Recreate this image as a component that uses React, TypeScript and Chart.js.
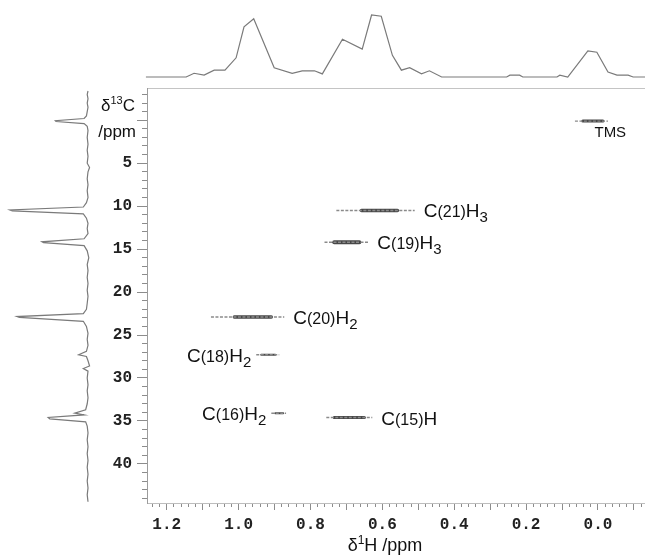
import { useEffect, useRef } from 'react';
import { Chart, registerables } from 'chart.js';

Chart.register(...registerables);

// ---------------- data ----------------
// axis ranges (ppm)
const protonRange = [-0.131, 1.255];
const carbonRange = [-3.75, 44.55];
// tick labels
const protonTickLabels = ['1.2', '1.0', '0.8', '0.6', '0.4', '0.2', '0.0'];
const carbonTickLabels = ['5', '10', '15', '20', '25', '30', '35', '40'];

// 2D cross peaks
const peakNames = ['TMS', 'C(21)H3', 'C(19)H3', 'C(20)H2', 'C(18)H2', 'C(16)H2', 'C(15)H'];
const peakC13 = [0.1, 10.5, 14.2, 22.9, 27.3, 34.1, 34.6];
const peakH1OuterStart = [0.064, 0.728, 0.761, 1.077, 0.951, 0.909, 0.756];
const peakH1OuterEnd = [-0.028, 0.51, 0.639, 0.873, 0.887, 0.868, 0.628];
const peakH1CoreStart = [0.042, 0.658, 0.734, 1.012, 0.937, 0.898, 0.734];
const peakH1CoreEnd = [-0.014, 0.558, 0.664, 0.909, 0.898, 0.876, 0.65];

// 1H projection (top trace)
const protonPpm = [1.258, 1.146, 1.124, 1.096, 1.068, 1.038, 1.007, 0.985, 0.958, 0.901, 0.851, 0.823, 0.789, 0.767, 0.711, 0.656, 0.63, 0.603, 0.572, 0.547, 0.524, 0.491, 0.469, 0.435, 0.254, 0.245, 0.218, 0.209, 0.114, 0.106, 0.084, 0.028, 0.003, -0.028, -0.053, -0.084, -0.098, -0.131];
const protonIntensity = [0, 0, 6, 3, 11, 11, 31, 81, 94, 15, 6, 10, 10, 5, 61, 45, 100, 98, 35, 11, 15, 5, 10, 0, 0, 3, 3, 0, 0, 3, 0, 42, 40, 8, 3, 3, 0, 0];

// 13C projection (left trace)
const carbonPpm = [-3.4, -3.0, -2.5, -2.0, -1.5, -1.0, -0.5, -0.2, 0.05, 0.15, 0.4, 0.7, 1.2, 2.0, 2.8, 3.5, 4.2, 5.0, 5.5, 6.0, 6.8, 7.5, 8.2, 9.0, 9.6, 10.1, 10.45, 10.55, 10.9, 11.4, 12.0, 12.6, 13.2, 13.8, 14.15, 14.25, 14.6, 15.2, 16.0, 16.8, 17.5, 18.3, 19.0, 19.8, 20.5, 21.3, 22.0, 22.5, 22.85, 22.95, 23.4, 24.0, 24.8, 25.5, 26.2, 26.9, 27.3, 27.5, 28.0, 28.6, 28.9, 29.2, 30.0, 30.8, 31.5, 32.3, 33.0, 33.7, 34.1, 34.3, 34.6, 34.75, 35.1, 35.6, 36.4, 37.2, 38.0, 38.8, 39.6, 40.4, 41.2, 42.0, 42.8, 43.6, 44.4];
const carbonIntensity = [0, 1, 0, 1, 0, 1, 2, 5, 42, 41, 5, 1, 0, 1, 0, 1, 0, 1, -2, 0, 1, 0, 1, 0, 2, 6, 100, 97, 6, 2, 0, 1, 0, 5, 59, 57, 5, 1, -1, 1, 0, 1, 0, 1, 0, 1, 2, 6, 91, 88, 6, 2, 0, 1, 0, 2, 12, 2, 0, -2, 6, 0, 1, 0, 1, 0, 1, 3, 17, 5, 51, 49, 3, 1, 0, 1, 0, 1, 0, 1, 0, 1, 0, 1, 0];

// ---------------- styles / layout ----------------
const W = 645;
const H = 556;
const PLOT_LEFT = 147;
const PLOT_TOP = 88;
const PLOT_BOTTOM = 503;
const TOP_BASE = 77;
const TOP_FULL = 15;
const LEFT_BASE = 88;
const LEFT_FULL = 10;
const coreWidths = [3, 3.5, 4, 3.5, 2, 2, 3];
const labelPlacement = ['below', 'right', 'right', 'right', 'left', 'left', 'right'];
const SANS = '"Liberation Sans", Arial, sans-serif';
const MONO = '"Liberation Mono", "Courier New", monospace';

type Part = { t: string; size: number; dy: number };

function partsFor(name: string): Part[] {
  const m = name.match(/^([A-Z])(\(\d+\))([A-Z])(\d*)$/);
  if (!m) return [{ t: name, size: 15, dy: 0 }];
  const out: Part[] = [
    { t: m[1], size: 19, dy: 0 },
    { t: m[2], size: 16, dy: 0 },
    { t: m[3], size: 19, dy: 0 },
  ];
  if (m[4]) out.push({ t: m[4], size: 15, dy: 5 });
  return out;
}

function drawParts(ctx: CanvasRenderingContext2D, parts: Part[], x: number, baseline: number, align: string) {
  let total = 0;
  const widths = parts.map((p) => {
    ctx.font = `${p.size}px ${SANS}`;
    const w = ctx.measureText(p.t).width;
    total += w;
    return w;
  });
  let cx = align === 'right' ? x - total : align === 'center' ? x - total / 2 : x;
  ctx.textBaseline = 'alphabetic';
  ctx.textAlign = 'left';
  parts.forEach((p, i) => {
    ctx.font = `${p.size}px ${SANS}`;
    ctx.fillText(p.t, cx, baseline + p.dy);
    cx += widths[i];
  });
}

const textPlugin = {
  id: 'nmrText',
  afterDraw(chart: any) {
    const ctx: CanvasRenderingContext2D = chart.ctx;
    const xs = chart.scales.x;
    const ys = chart.scales.y;
    ctx.save();
    ctx.fillStyle = '#111';
    peakNames.forEach((name, i) => {
      const parts = partsFor(name);
      const py = ys.getPixelForValue(peakC13[i]);
      const place = labelPlacement[i];
      if (place === 'right') {
        drawParts(ctx, parts, xs.getPixelForValue(peakH1OuterEnd[i]) + 9, py + 7, 'left');
      } else if (place === 'left') {
        drawParts(ctx, parts, xs.getPixelForValue(peakH1OuterStart[i]) - 5, py + 7, 'right');
      } else {
        const cx = xs.getPixelForValue((peakH1OuterStart[i] + peakH1OuterEnd[i]) / 2) + 3;
        drawParts(ctx, parts, cx, py + 16, 'left');
      }
    });
    const area = chart.chartArea;
    // y title
    drawParts(ctx, [
      { t: 'δ', size: 17, dy: 0 },
      { t: '13', size: 11, dy: -7 },
      { t: 'C', size: 17, dy: 0 },
    ], area.left - 12, 111, 'right');
    drawParts(ctx, [{ t: '/ppm', size: 17, dy: 0 }], area.left - 11, 137, 'right');
    // x title
    drawParts(ctx, [
      { t: 'δ', size: 18, dy: 0 },
      { t: '1', size: 12, dy: -7 },
      { t: 'H', size: 18, dy: 0 },
      { t: ' /ppm', size: 18, dy: 0 },
    ], 385, 551, 'center');
    ctx.restore();
  },
};

export default function App() {
  const ref = useRef<HTMLCanvasElement>(null);

  useEffect(() => {
    const canvas = ref.current;
    if (!canvas) return;
    const plotH = PLOT_BOTTOM - PLOT_TOP;
    const plotW = W - PLOT_LEFT;
    const kTop = (TOP_BASE - TOP_FULL) / 100;
    const yTopMin = -(PLOT_BOTTOM - TOP_BASE) / kTop;
    const yTopMax = yTopMin + plotH / kTop;
    const kLeft = (LEFT_BASE - LEFT_FULL) / 100;
    const xLeftMax = -(PLOT_LEFT - LEFT_BASE) / kLeft;
    const xLeftMin = xLeftMax - plotW / kLeft;

    const datasets: any[] = [];
    datasets.push({
      data: protonPpm.map((p, i) => ({ x: p, y: protonIntensity[i] })),
      xAxisID: 'x', yAxisID: 'yTop', showLine: true, borderColor: '#7a7a7a',
      borderWidth: 1.2, pointRadius: 0, clip: false,
    });
    datasets.push({
      data: carbonPpm.map((c, i) => ({ x: carbonIntensity[i], y: c })),
      xAxisID: 'xLeft', yAxisID: 'y', showLine: true, borderColor: '#7a7a7a',
      borderWidth: 1.2, pointRadius: 0, clip: false,
    });
    peakNames.forEach((_, i) => {
      datasets.push({
        data: [{ x: peakH1OuterStart[i], y: peakC13[i] }, { x: peakH1OuterEnd[i], y: peakC13[i] }],
        xAxisID: 'x', yAxisID: 'y', showLine: true, borderColor: '#8a8a8a',
        borderWidth: 1.4, borderDash: [3, 1.5], pointRadius: 0,
      });
      datasets.push({
        data: [{ x: peakH1CoreStart[i], y: peakC13[i] }, { x: peakH1CoreEnd[i], y: peakC13[i] }],
        xAxisID: 'x', yAxisID: 'y', showLine: true, borderColor: '#484848',
        borderWidth: coreWidths[i], pointRadius: 0, borderCapStyle: 'round',
      });
    });

    const tickColor = '#8c8c8c';
    const labelFont = { family: MONO, size: 16, weight: 'bold' as const };

    const chart = new Chart(canvas, {
      type: 'scatter',
      data: { datasets },
      plugins: [textPlugin],
      options: {
        animation: false,
        responsive: false,
        layout: { padding: { top: PLOT_TOP, left: 0, right: 0, bottom: 0 } },
        plugins: { legend: { display: false }, tooltip: { enabled: false } },
        events: [],
        scales: {
          xMinor: {
            type: 'linear', axis: 'x', position: 'bottom', reverse: true,
            min: protonRange[0], max: protonRange[1],
            ticks: { display: false, stepSize: 0.02, includeBounds: false },
            grid: { drawOnChartArea: false, tickLength: 4, tickColor },
            border: { display: false },
            afterFit: (s: any) => { s.height = 0; },
          },
          x: {
            type: 'linear', axis: 'x', position: 'bottom', reverse: true,
            min: protonRange[0], max: protonRange[1],
            ticks: {
              stepSize: 0.1, includeBounds: false, autoSkip: false, maxRotation: 0, minRotation: 0,
              padding: 5, color: '#222', font: labelFont,
              callback: (v: any) => {
                const s = (Math.round(Number(v) * 10) / 10).toFixed(1);
                return protonTickLabels.includes(s) ? s : '';
              },
            },
            grid: { drawOnChartArea: false, tickLength: 7, tickColor },
            border: { display: true, color: '#bdbdbd' },
            afterFit: (s: any) => { s.height = H - PLOT_BOTTOM; },
          },
          xTop: {
            type: 'linear', axis: 'x', position: 'top',
            min: protonRange[0], max: protonRange[1],
            ticks: { display: false },
            grid: { drawOnChartArea: false, drawTicks: false },
            border: { display: true, color: '#c4c4c4' },
            afterFit: (s: any) => { s.height = 0; },
          },
          xLeft: {
            type: 'linear', axis: 'x', position: 'bottom', display: false, reverse: true,
            min: xLeftMin, max: xLeftMax,
          },
          yMinor: {
            type: 'linear', axis: 'y', position: 'left', reverse: true,
            min: carbonRange[0], max: carbonRange[1],
            ticks: { display: false, stepSize: 1, includeBounds: false },
            grid: { drawOnChartArea: false, tickLength: 5, tickColor },
            border: { display: false },
            afterFit: (s: any) => { s.width = 0; },
          },
          y: {
            type: 'linear', axis: 'y', position: 'left', reverse: true,
            min: carbonRange[0], max: carbonRange[1],
            ticks: {
              stepSize: 5, includeBounds: false, autoSkip: false, padding: 5,
              color: '#222', font: labelFont,
              callback: (v: any) => {
                const s = String(Math.round(Number(v)));
                return carbonTickLabels.includes(s) ? s : '';
              },
            },
            grid: { drawOnChartArea: false, tickLength: 10, tickColor },
            border: { display: true, color: '#9c9c9c' },
            afterFit: (s: any) => { s.width = PLOT_LEFT; },
          },
          yTop: {
            type: 'linear', axis: 'y', position: 'left', display: false,
            min: yTopMin, max: yTopMax,
          },
        },
      } as any,
    });
    return () => chart.destroy();
  }, []);

  return (
    <div style={{ position: 'fixed', left: 0, top: 0, width: W, height: H, background: '#fff' }}>
      <canvas ref={ref} width={W} height={H} style={{ display: 'block' }} />
    </div>
  );
}
